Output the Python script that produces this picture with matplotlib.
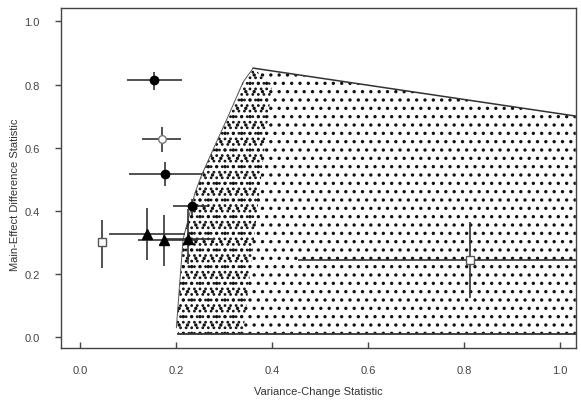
import numpy as np
import matplotlib
matplotlib.use("Agg")
import matplotlib.pyplot as plt
from matplotlib.patches import Polygon

plt.rcParams["font.family"] = ["Liberation Sans", "DejaVu Sans"]
plt.rcParams["hatch.linewidth"] = 1.2

# simulated-region boundary (variance-change, main-effect difference)
region_x = [0.201, 0.208, 0.215, 0.240, 0.253, 0.278, 0.309, 0.340, 0.361, 1.033, 1.033, 0.205]
region_y = [0.030, 0.173, 0.310, 0.458, 0.511, 0.596, 0.700, 0.808, 0.852, 0.700, 0.010, 0.010]
# denser left part of the cloud
dense_x = [0.201, 0.208, 0.215, 0.240, 0.253, 0.278, 0.309, 0.340, 0.361, 0.40, 0.34, 0.205]
dense_y = [0.030, 0.173, 0.310, 0.458, 0.511, 0.596, 0.700, 0.808, 0.852, 0.80, 0.010, 0.010]

# observed statistics with interval ends
circ_x = [0.154, 0.177, 0.233]
circ_y = [0.814, 0.516, 0.414]
circ_xlo = [0.098, 0.103, 0.193]
circ_xhi = [0.2125, 0.254, 0.266]
circ_ylo = [0.784, 0.477, 0.388]
circ_yhi = [0.841, 0.553, 0.437]

ocirc_x = [0.170]
ocirc_y = [0.627]
ocirc_xlo = [0.129]
ocirc_xhi = [0.210]
ocirc_ylo = [0.585]
ocirc_yhi = [0.665]

tri_x = [0.140, 0.175, 0.226]
tri_y = [0.325, 0.307, 0.312]
tri_xlo = [0.061, 0.120, 0.180]
tri_xhi = [0.219, 0.245, 0.281]
tri_ylo = [0.244, 0.225, 0.231]
tri_yhi = [0.408, 0.387, 0.405]

sq_x = [0.045, 0.8125]
sq_y = [0.300, 0.2435]
sq_xlo = [0.041, 0.455]
sq_xhi = [0.049, 1.20]
sq_ylo = [0.220, 0.125]
sq_yhi = [0.371, 0.363]

fig = plt.figure(figsize=(5.81, 4.02), dpi=100)
ax = fig.add_axes([0.1045, 0.131, 0.8865, 0.847])

ax.add_patch(Polygon(np.column_stack([region_x, region_y]), closed=True,
                     facecolor="none", edgecolor="#111111", hatch="..", lw=0))
ax.add_patch(Polygon(np.column_stack([dense_x, dense_y]), closed=True,
                     facecolor="none", edgecolor="#111111", hatch="...", lw=0))
# solid top and bottom edges of the region
ax.plot(region_x[8:10], region_y[8:10], color="#333333", lw=1.1)
ax.plot(region_x[10:12], region_y[10:12], color="#333333", lw=1.3)
ax.plot(region_x[:9], region_y[:9], color="#555555", lw=0.7)


def bars(x, y, xlo, xhi, ylo, yhi, **kw):
    x, y = np.array(x), np.array(y)
    xerr = [x - np.array(xlo), np.array(xhi) - x]
    yerr = [y - np.array(ylo), np.array(yhi) - y]
    ax.errorbar(x, y, xerr=xerr, yerr=yerr, ls="none", ecolor="#333333",
                elinewidth=1.2, capsize=0, **kw)


bars(circ_x, circ_y, circ_xlo, circ_xhi, circ_ylo, circ_yhi,
     marker="o", ms=6, mfc="black", mec="black")
bars(ocirc_x, ocirc_y, ocirc_xlo, ocirc_xhi, ocirc_ylo, ocirc_yhi,
     marker="o", ms=5.5, mfc="white", mec="#777777")
bars(tri_x, tri_y, tri_xlo, tri_xhi, tri_ylo, tri_yhi,
     marker="^", ms=6.5, mfc="black", mec="black")
bars(sq_x, sq_y, sq_xlo, sq_xhi, sq_ylo, sq_yhi,
     marker="s", ms=6, mfc="white", mec="#555555")

ax.set_xlim(-0.04, 1.033)
ax.set_ylim(-0.036, 1.043)
ax.set_xticks([0.0, 0.2, 0.4, 0.6, 0.8, 1.0])
ax.set_yticks([0.0, 0.2, 0.4, 0.6, 0.8, 1.0])
ax.set_xticklabels(["0.0", "0.2", "0.4", "0.6", "0.8", "1.0"])
ax.set_yticklabels(["0.0", "0.2", "0.4", "0.6", "0.8", "1.0"])
ax.tick_params(axis="x", direction="in", length=4, width=1, pad=12,
               labelsize=8, colors="#444444")
ax.tick_params(axis="y", direction="out", length=4, width=1, pad=11,
               labelsize=8, colors="#444444")
for s in ax.spines.values():
    s.set_color("#444444")
    s.set_linewidth(1.0)

ax.set_xlabel("Variance-Change Statistic", fontsize=8, color="#333333")
ax.set_ylabel("Main-Effect Difference Statistic", fontsize=8, color="#333333")
ax.xaxis.set_label_coords(0.5, -0.112)
ax.yaxis.set_label_coords(-0.079, 0.453)

fig.savefig("out.png", dpi=100)
